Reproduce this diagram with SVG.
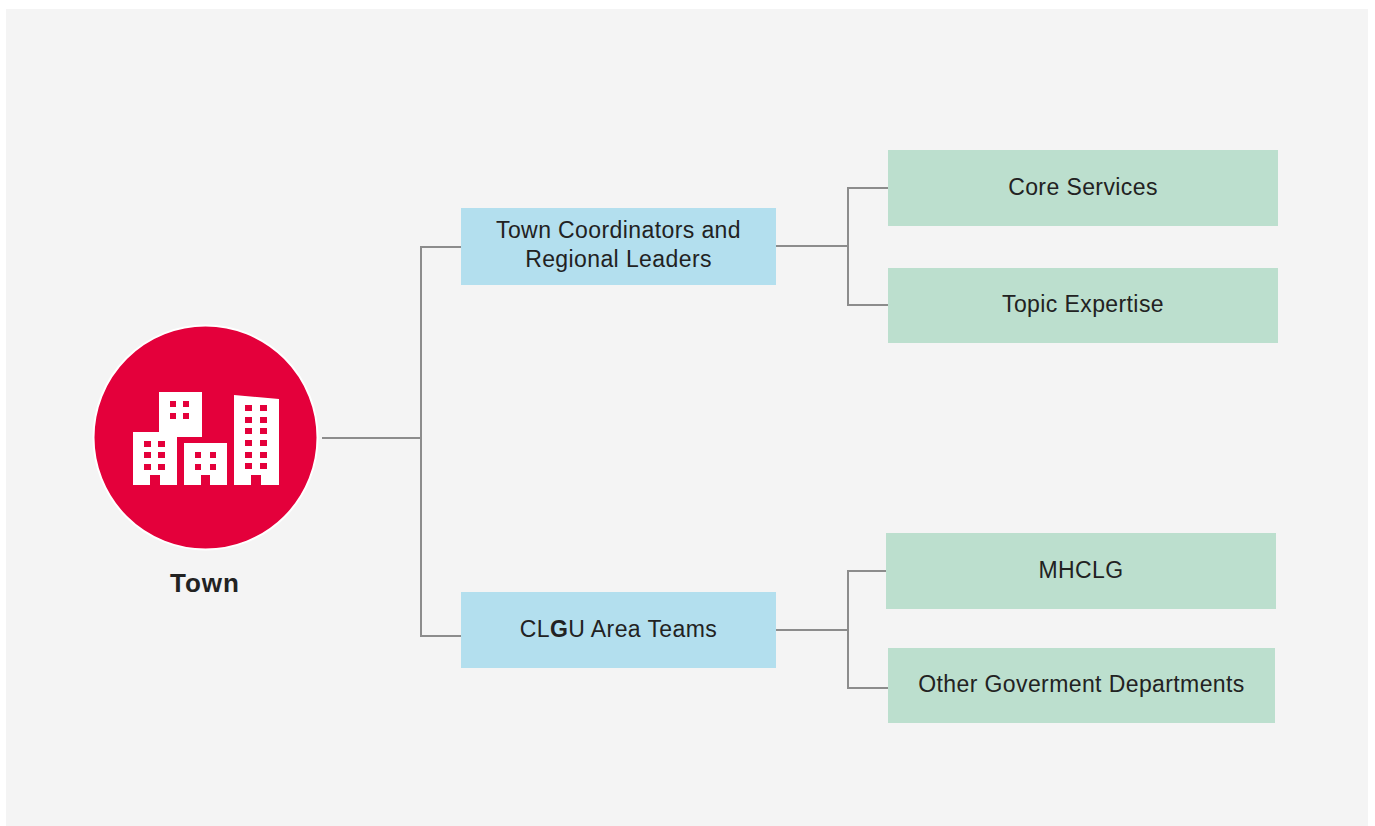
<svg xmlns="http://www.w3.org/2000/svg" width="1375" height="826" viewBox="0 0 1375 826">
<style>
.bg{fill:#f4f4f4}
.blue{fill:#b3dfee}
.green{fill:#bcdfce}
.lbl{font-family:"Liberation Sans",Arial,sans-serif;font-size:23px;letter-spacing:0.4px;fill:#222;text-anchor:middle}
.conn{fill:none;stroke:#8c8c8c;stroke-width:2}
.win{fill:#e4003b}
</style>
<rect x="0" y="0" width="1375" height="826" fill="#ffffff"/>
<rect class="bg" x="6" y="9" width="1362" height="817"/>
<g id="connectors">
<path class="conn" d="M322 438 H421 M461 247 H421 V636 H461"/>
<path class="conn" d="M776 246 H848 M888 188 H848 V305 H888"/>
<path class="conn" d="M776 630 H848 M886 571 H848 V688 H888"/>
</g>
<g id="town">
<circle cx="205.5" cy="437.5" r="112" fill="#e4003b" stroke="#ffffff" stroke-width="2"/>
<g fill="#ffffff">
<rect x="159" y="392" width="43" height="45"/>
<path d="M133 432 H177 V485 H160 V475 H150 V485 H133 Z"/>
<path d="M184 443 H227 V485 H210 V475 H201 V485 H184 Z"/>
<path d="M234 395 L279 399 V485 H261 V475 H251 V485 H234 Z"/>
</g>
<g class="win">
<rect x="170" y="401" width="6" height="6"/><rect x="183" y="401" width="6" height="6"/>
<rect x="170" y="413" width="6" height="6"/><rect x="183" y="413" width="6" height="6"/>
<rect x="144" y="441" width="7" height="6"/><rect x="158" y="441" width="7" height="6"/>
<rect x="144" y="452" width="7" height="6"/><rect x="158" y="452" width="7" height="6"/>
<rect x="144" y="464" width="7" height="6"/><rect x="158" y="464" width="7" height="6"/>
<rect x="195" y="452" width="6" height="6"/><rect x="210" y="452" width="6" height="6"/>
<rect x="195" y="464" width="6" height="6"/><rect x="210" y="464" width="6" height="6"/>
<rect x="245" y="405" width="7" height="6"/><rect x="260" y="405" width="7" height="6"/>
<rect x="245" y="417" width="7" height="6"/><rect x="260" y="417" width="7" height="6"/>
<rect x="245" y="428" width="7" height="6"/><rect x="260" y="428" width="7" height="6"/>
<rect x="245" y="440" width="7" height="6"/><rect x="260" y="440" width="7" height="6"/>
<rect x="245" y="452" width="7" height="6"/><rect x="260" y="452" width="7" height="6"/>
<rect x="245" y="463" width="7" height="6"/><rect x="260" y="463" width="7" height="6"/>
</g>
<text x="205" y="592" font-family="Liberation Sans,Arial,sans-serif" font-size="26" font-weight="bold" letter-spacing="1" fill="#222" text-anchor="middle">Town</text>
</g>
<g id="coordinators">
<rect class="blue" x="461" y="208" width="315" height="77"/>
<text class="lbl" x="618.5" y="238">Town Coordinators and</text>
<text class="lbl" x="618.5" y="267">Regional Leaders</text>
</g>
<g id="clgu">
<rect class="blue" x="461" y="592" width="315" height="76"/>
<text class="lbl" x="618.5" y="637">CL<tspan font-weight="bold">G</tspan>U Area Teams</text>
</g>
<g id="core">
<rect class="green" x="888" y="150" width="390" height="76"/>
<text class="lbl" x="1083" y="195">Core Services</text>
</g>
<g id="topic">
<rect class="green" x="888" y="268" width="390" height="75"/>
<text class="lbl" x="1083" y="312">Topic Expertise</text>
</g>
<g id="mhclg">
<rect class="green" x="886" y="533" width="390" height="76"/>
<text class="lbl" x="1081" y="578">MHCLG</text>
</g>
<g id="other">
<rect class="green" x="888" y="648" width="387" height="75"/>
<text class="lbl" x="1081.5" y="692">Other Goverment Departments</text>
</g>
</svg>
